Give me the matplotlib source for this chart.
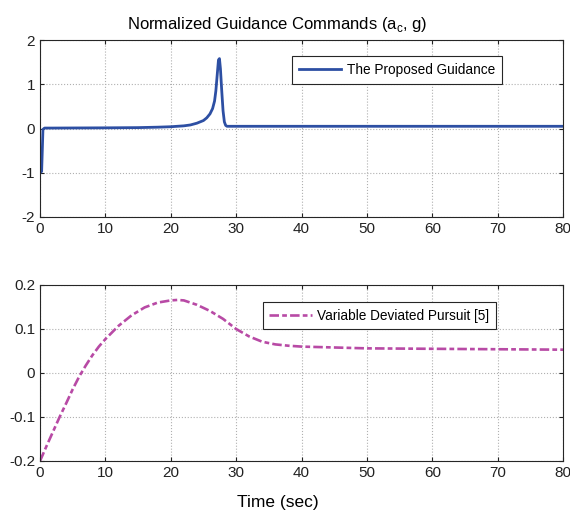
import matplotlib
matplotlib.use("Agg")
import matplotlib.pyplot as plt

# Top: proposed guidance
t1 = [0.0, 0.25, 0.35, 0.45, 0.7, 2, 5, 10, 15, 18, 20, 22, 23, 24, 25, 25.5, 26, 26.4, 26.7, 26.9, 27.1, 27.3, 27.45, 27.6, 27.8, 28.0, 28.2, 28.4, 28.6, 29, 30, 40, 50, 60, 70, 80]
a1 = [-1.0, -0.97, -0.5, -0.02, 0.01, 0.01, 0.012, 0.015, 0.02, 0.03, 0.04, 0.06, 0.08, 0.12, 0.18, 0.24, 0.33, 0.45, 0.62, 0.85, 1.2, 1.55, 1.58, 1.35, 0.85, 0.4, 0.15, 0.07, 0.05, 0.05, 0.05, 0.05, 0.05, 0.05, 0.05, 0.05]

# Bottom: variable deviated pursuit
t2 = [0, 1, 2, 3, 4, 5, 6, 7, 8, 9, 10, 12, 14, 16, 18, 20, 21, 22, 24, 26, 28, 30, 32, 34, 36, 38, 40, 45, 50, 60, 70, 80]
a2 = [-0.2, -0.166, -0.133, -0.1, -0.069, -0.037, -0.008, 0.017, 0.04, 0.06, 0.077, 0.107, 0.131, 0.149, 0.16, 0.165, 0.166, 0.165, 0.155, 0.141, 0.123, 0.1, 0.083, 0.071, 0.065, 0.062, 0.06, 0.058, 0.056, 0.055, 0.054, 0.053]

xticks = [0, 10, 20, 30, 40, 50, 60, 70, 80]
yticks1 = [-2, -1, 0, 1, 2]
yticks2 = [-0.2, -0.1, 0, 0.1, 0.2]

plt.rcParams['font.family'] = ['Liberation Sans', 'DejaVu Sans']
plt.rcParams['axes.unicode_minus'] = False

fig = plt.figure(figsize=(5.7, 5.13), dpi=100)
W, H = 570, 513
ax1 = fig.add_axes([40 / W, 1 - 217 / H, 523 / W, 177 / H])
ax2 = fig.add_axes([40 / W, 1 - 461 / H, 523 / W, 176 / H])

blue = '#2d4fa3'
mag = '#b84aa5'

ax1.plot(t1, a1, color=blue, lw=2.0, label='The Proposed Guidance')
ax2.plot(t2, a2, color=mag, lw=1.9, ls=(0, (3.6, 1.2, 1.8, 1.2)), label='Variable Deviated Pursuit [5]')

anchors = {0: (0.883, 0.91), 1: (0.872, 0.905)}
for i, (ax, yt, yl) in enumerate([(ax1, yticks1, (-2, 2)), (ax2, yticks2, (-0.2, 0.2))]):
    ax.set_xlim(0, 80)
    ax.set_ylim(*yl)
    ax.set_xticks(xticks)
    ax.set_yticks(yt)
    ax.grid(True, color='#b0b0b0', ls=':', lw=0.8)
    ax.tick_params(direction='in', top=True, right=True, labelsize=11, length=3, colors='#222222', labelcolor='#222222')
    for s in ax.spines.values():
        s.set_color('#262626')
        s.set_linewidth(0.8)
    leg = ax.legend(loc='upper right', fontsize=9.8, fancybox=False, edgecolor='#262626',
                    framealpha=1, handlelength=3.1, handletextpad=0.4, borderpad=0.5,
                    borderaxespad=0, bbox_to_anchor=anchors[i])
    leg.get_frame().set_linewidth(0.8)

ax2.set_yticklabels(['-0.2', '-0.1', '0', '0.1', '0.2'])
ax1.set_title('Normalized Guidance Commands (a$_\\mathregular{c}$, g)', fontsize=12, pad=8, x=0.453)
ax2.set_xlabel('Time (sec)', fontsize=12.5, labelpad=11, x=0.455)

fig.savefig('out.png', dpi=100)
